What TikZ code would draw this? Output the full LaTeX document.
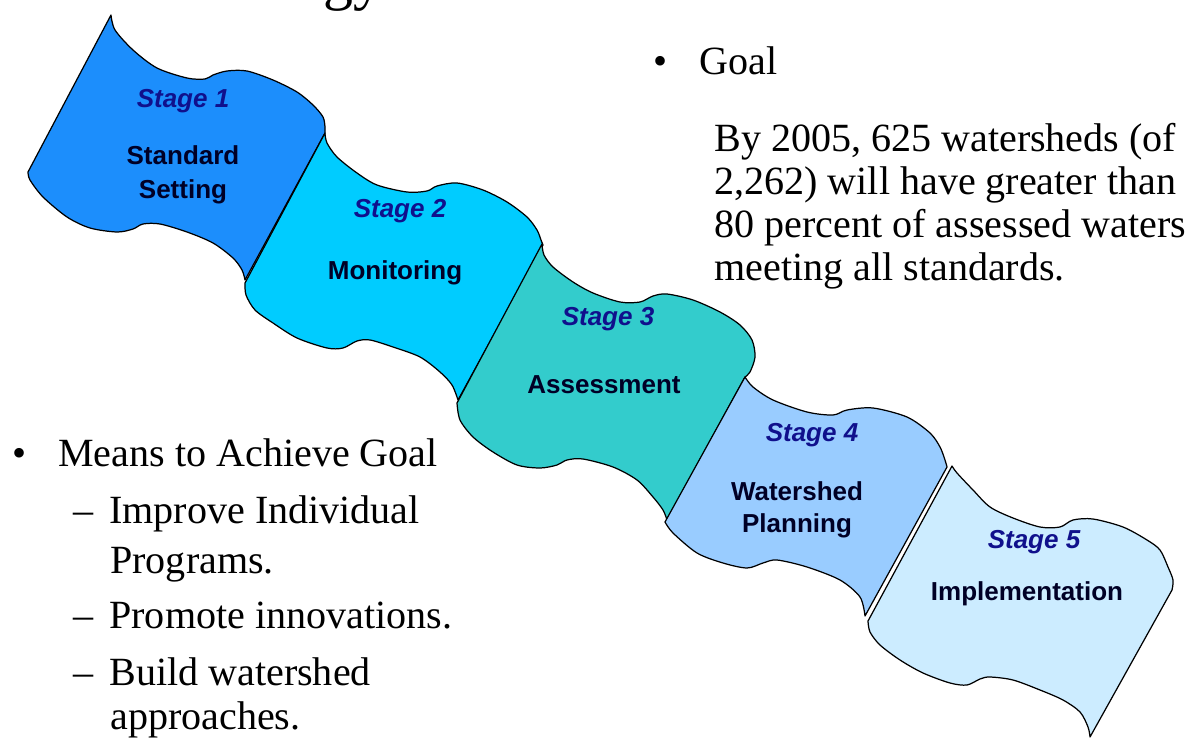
\documentclass[tikz,border=0pt]{standalone}
\usepackage{fontspec}
\setmainfont{Liberation Serif}
\setsansfont{Liberation Sans}
\definecolor{stageone}{RGB}{28,142,252}
\definecolor{stagetwo}{RGB}{0,204,255}
\definecolor{stagethree}{RGB}{51,204,204}
\definecolor{stagefour}{RGB}{153,204,255}
\definecolor{stagefive}{RGB}{204,236,255}
\definecolor{stagenavy}{RGB}{16,16,140}

\begin{document}
\begin{tikzpicture}[x=0.02cm, y=-0.02cm,
  panel/.style={draw=black, line width=0.7pt, line join=round},
  stagelbl/.style={anchor=base, inner sep=0pt, text=stagenavy, font=\sffamily\bfseries\itshape\fontsize{14.8}{17}\selectfont},
  namelbl/.style={anchor=base, inner sep=0pt, text=black!85!blue, font=\sffamily\bfseries\fontsize{14.8}{17}\selectfont},
  txt/.style={anchor=base west, inner sep=0pt, font=\fontsize{22.8}{27}\selectfont}]
  \fill[white] (0,0) rectangle (1189,740);
  \useasboundingbox (0,0) rectangle (1189,740);
  % titulo (so o pe das letras)
  \node[anchor=base east, inner sep=0pt, font=\fontsize{34}{40}\selectfont] (title) at (384,-1) {gy};
  % faixas
  \filldraw[panel, fill=stageone]
    plot[smooth] coordinates {(111,15) (115,30) (133,50) (157,68) (187,78) (205,79) (213,75) (227,71) (247,71) (273,80) (297,92) (313,105) (323,117) (325,127) (325,133)}
    -- plot[smooth] coordinates {(245,280) (242,270) (233,258) (213,243) (187,232) (160,224) (143,224) (133,229) (117,232) (90,228) (67,217) (43,197) (30,180) (28,172)}
    -- cycle;
  \filldraw[panel, fill=stagetwo]
    plot[smooth] coordinates {(325,133) (327,143) (337,157) (357,173) (377,185) (407,192) (427,191) (437,186) (457,183) (483,190) (507,202) (527,217) (537,230) (541,240) (543,245)}
    -- plot[smooth] coordinates {(458,400) (452,385) (440,372) (420,357) (393,347) (370,340) (357,341) (343,348) (327,348) (297,338) (273,323) (255,310) (246,295) (245,283)}
    -- cycle;
  \filldraw[panel, fill=stagethree]
    plot[smooth] coordinates {(542,244) (544,255) (553,267) (573,282) (593,293) (620,302) (640,302) (653,296) (667,294) (693,300) (720,312) (740,325) (752,340) (755,357) (750,372) (745,377)}
    -- plot[smooth] coordinates {(667,520) (663,510) (653,497) (637,480) (613,467) (583,459) (567,460) (557,465) (540,468) (517,465) (493,452) (473,437) (460,420) (457,403)}
    -- cycle;
  \filldraw[panel, fill=stagefour]
    plot[smooth] coordinates {(745,377) (753,387) (773,400) (807,412) (833,415) (847,410) (873,408) (907,417) (930,433) (940,447) (945,460) (947,467)}
    -- plot[smooth] coordinates {(865,616) (860,597) (840,580) (807,567) (777,560) (763,563) (747,568) (723,563) (697,553) (673,533) (665,522)}
    -- cycle;
  \filldraw[panel, fill=stagefive]
    plot[smooth] coordinates {(952,466) (957,473) (973,490) (990,507) (1013,518) (1040,527) (1060,527) (1073,520) (1093,519) (1123,527) (1147,540) (1160,550) (1168,567) (1173,580) (1172,590)}
    -- plot[smooth] coordinates {(1090,737) (1088,727) (1080,712) (1063,700) (1040,690) (1013,680) (990,677) (980,679) (967,685) (950,683) (923,673) (900,660) (880,645) (870,632) (868,621)}
    -- cycle;
  % rotulos das etapas
  \node[stagelbl] (s1) at (183,108) {Stage 1};
  \node[namelbl] (n1a) at (183,164) {Standard};
  \node[namelbl] (n1b) at (183,198) {Setting};
  \node[stagelbl] (s2) at (400,217) {Stage 2};
  \node[namelbl] (n2) at (395,279) {Monitoring};
  \node[stagelbl] (s3) at (608,325) {Stage 3};
  \node[namelbl] (n3) at (604,393) {Assessment};
  \node[stagelbl] (s4) at (812,441) {Stage 4};
  \node[namelbl] (n4a) at (797,500) {Watershed};
  \node[namelbl] (n4b) at (797,532) {Planning};
  \node[stagelbl] (s5) at (1034,548) {Stage 5};
  \node[namelbl] (n5) at (1027,600) {Implementation};
  % meta
  \node[txt, anchor=base] (goalbul) at (661,74) {\textbullet};
  \node[txt] (goal) at (699,74) {Goal};
  \node[txt] (goal1) at (714,151) {By 2005, 625 watersheds (of};
  \node[txt] (goal2) at (714,194) {2,262) will have greater than};
  \node[txt] (goal3) at (714,237) {80 percent of assessed waters};
  \node[txt] (goal4) at (714,280) {meeting all standards.};
  % meios
  \node[txt, anchor=base] (meansbul) at (20,466) {\textbullet};
  \node[txt] (means) at (58,466) {Means to Achieve Goal};
  \foreach \y/\t [count=\i] in {523/Improve Individual, 628/Promote innovations., 685/Build watershed}
    \node[txt] (dash\i) at (73,\y) {--\hspace{0.4em}\t};
  \node[txt] (means1b) at (110,573) {Programs.};
  \node[txt] (means3b) at (110,729) {approaches.};
\end{tikzpicture}
\end{document}
